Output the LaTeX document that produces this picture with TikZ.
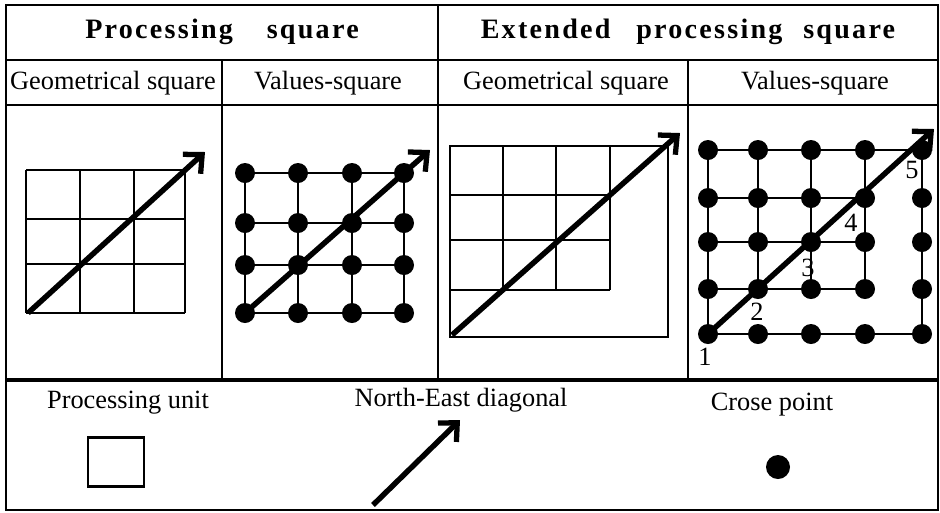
\documentclass[tikz,border=0pt]{standalone}
\usepackage{fontspec}
\setmainfont{Liberation Serif}
\newfontfamily\titlefont[LetterSpace=8]{Liberation Serif}
\usetikzlibrary{arrows.meta, positioning}

\tikzset{
  rule/.style={line width=1.1pt},
  cell/.style={line width=1.2pt},
  dot/.style={circle, fill=black, inner sep=0pt, minimum size=0.4cm},
  diag/.style={line width=3.1pt, -{Straight Barb[length=8pt, width=15pt, line width=3pt]}},
  head/.style={font=\titlefont\bfseries\fontsize{16pt}{18pt}\selectfont},
  sub/.style={font=\fontsize{15pt}{17pt}\selectfont},
  num/.style={font=\fontsize{15pt}{17pt}\selectfont, inner sep=0pt}
}

\begin{document}
\begin{tikzpicture}[x=0.02cm, y=-0.02cm]
\useasboundingbox (0,0) rectangle (940,512);

% table
\draw[rule] (6,5) rectangle (938,510);
\draw[rule] (6,60) -- (938,60);
\draw[rule] (6,105) -- (938,105);
\draw[line width=2.2pt] (6,380) -- (938,380);
\draw[rule] (222,60) -- (222,380);
\draw[rule] (438,5) -- (438,380);
\draw[rule] (688,60) -- (688,380);

\node[head] (titleA) at (222,32) {Processing\hspace{0.49cm} square};
\node[head] (titleB) at (688,32) {Extended\hspace{0.33cm} processing\hspace{0.23cm} square};

\node[sub] (geoA) at (113,83) {Geometrical square};
\node[sub] (valA) at (328,83) {Values-square};
\node[sub] (geoB) at (566,83) {Geometrical square};
\node[sub] (valB) at (815,83) {Values-square};

% geometrical square
\foreach \x in {26,80,134,185} \draw[cell] (\x,170) -- (\x,313);
\foreach \y in {170,219,264,313} \draw[cell] (26,\y) -- (185,\y);
\coordinate (ga0) at (28,313);
\coordinate (ga1) at (205,152);
\draw[diag] (ga0) -- (ga1);

% values square
\foreach \x [count=\i] in {245,298,352,404}
  \foreach \y [count=\j] in {313,265,223,173}
    \coordinate (a\i\j) at (\x,\y);
\foreach \i in {1,...,4} \draw[cell] (a\i1) -- (a\i4);
\foreach \j in {1,...,4} \draw[cell] (a1\j) -- (a4\j);
\foreach \i in {1,...,4}
  \foreach \j in {1,...,4}
    \node[dot] (da\i\j) at (a\i\j) {};
\coordinate (va1) at (430,150);
\draw[diag] (da11.center) -- (va1);

% extended geometrical square
\draw[cell] (450,146) rectangle (668,337);
\foreach \x in {503,556,610} \draw[cell] (\x,146) -- (\x,290);
\foreach \y in {195,240,290} \draw[cell] (450,\y) -- (610,\y);
\coordinate (gb0) at (452,335);
\coordinate (gb1) at (680,133);
\draw[diag] (gb0) -- (gb1);

% extended values square
\foreach \x [count=\i] in {708,758,811,865,922}
  \foreach \y [count=\j] in {334,289,242,198,150}
    \coordinate (b\i\j) at (\x,\y);
\draw[cell] (b11) rectangle (b55);
\foreach \i in {2,...,4} \draw[cell] (b\i2) -- (b\i5);
\draw[cell] (b12) -- (b42) (b13) -- (b43) (b14) -- (b44);
\draw[cell] (b42) -- (b45);
\foreach \i in {1,...,5}
  \foreach \j in {1,...,5}
    \node[dot] (db\i\j) at (b\i\j) {};
\coordinate (vb1) at (934,129);
\draw[diag] (db11.center) -- (vb1);

\node[num] (n1) at (705,357) {1};
\node[num] (n2) at (757,312) {2};
\node[num] (n3) at (808,268) {3};
\node[num] (n4) at (851,223) {4};
\node[num] (n5) at (912,170) {5};

% legend
\node[sub] (unitLbl) at (128,403) {Processing unit};
\node[draw, line width=1.4pt, minimum width=1.12cm, minimum height=0.98cm] (unitBox) at (116,462) {};
\node[sub] (diagLbl) at (461,400) {North-East diagonal};
\coordinate (ne0) at (373,505);
\coordinate (ne1) at (460,420);
\draw[diag] (ne0) -- (ne1);
\node[sub] (crossLbl) at (772,405) {Crose point};
\node[dot, minimum size=0.48cm] (crossDot) at (778,467) {};
\end{tikzpicture}
\end{document}
